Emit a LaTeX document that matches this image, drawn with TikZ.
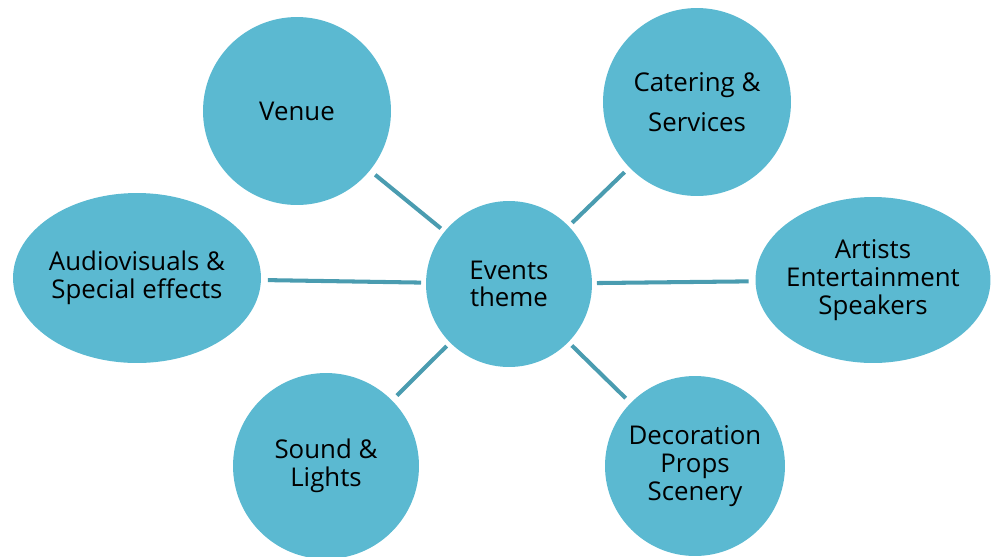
\documentclass[tikz,border=0pt]{standalone}
\usepackage{fontspec}
\setmainfont{Open Sans}
\usetikzlibrary{shapes.geometric}
\definecolor{bubble}{RGB}{91,185,209}
\definecolor{spoke}{RGB}{74,156,176}

\begin{document}
\begin{tikzpicture}[x=0.02cm,y=-0.02cm,-,shorten <=2.8pt,shorten >=1.7pt,line width=2.3pt,
    main node/.style={circle,fill=bubble,inner sep=0pt,align=center,font=\fontsize{14.7}{15.8}\selectfont},
    oval node/.style={main node,ellipse,inner xsep=-0.3cm}]
            \useasboundingbox (0,0) rectangle (992,556);

            \node[main node, minimum size=3.32cm] (E) at (509,284) {Events\\theme};

            \node[main node, minimum size=3.76cm] (V) at (297,111) {Venue};
            \node[main node, minimum size=3.76cm] (C) at (697,102) {Catering \&\\[7pt]Services};
            \node[oval node, minimum width=4.96cm, minimum height=3.4cm] (A) at (137,278) {Audiovisuals \&\\Special effects};
            \node[oval node, minimum width=4.7cm, minimum height=3.32cm] (R) at (873,280) {Artists\\Entertainment\\Speakers};
            \node[main node, minimum size=3.72cm] (S) at (326,466) {Sound \&\\Lights};
            \node[main node, minimum size=3.6cm] (D) at (695,466) {Decoration\\Props\\Scenery};

            \path[draw=spoke]
                (V) edge (E)
                (C) edge (E)
                (A) edge (E)
                (R) edge (E)
                (S) edge (E)
                (D) edge (E)
                ;
        \end{tikzpicture}
\end{document}
